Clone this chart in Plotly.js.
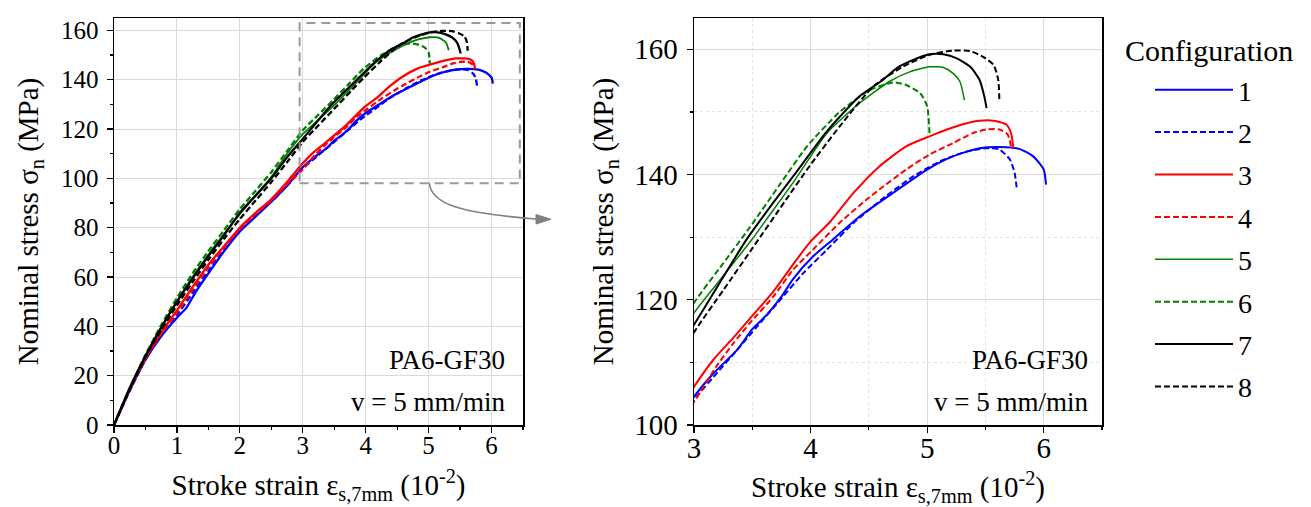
<!DOCTYPE html>
<html>
<head>
<meta charset="utf-8">
<script src="https://cdn.plot.ly/plotly-3.0.1.min.js"></script>
<style>html,body{margin:0;padding:0;background:#fff;}#chart{width:1311px;height:507px;}</style>
</head>
<body>
<div id="chart"></div>
<script>
// ---- Data ----
const configs = ["1", "2", "3", "4", "5", "6", "7", "8"];

const strain1 = [0, 0.25, 0.5, 0.75, 1.0, 1.15, 1.3, 1.5, 1.75, 2.0, 2.25, 2.5, 2.75, 3.0, 3.17, 3.37, 3.5, 3.62, 3.75, 3.85, 4.02, 4.19, 4.42, 4.71, 5.0, 5.22, 5.45, 5.62, 5.79, 5.91, 6.0, 6.02];
const stress1 = [0, 14, 26.5, 36, 43.5, 47.5, 54, 61.5, 70.5, 78.5, 84.5, 90.5, 97, 104.5, 108.3, 112, 115.3, 117.5, 120.5, 123.3, 126.9, 129.6, 133.3, 137.1, 140.8, 142.9, 144.2, 144.4, 144.1, 142.9, 140.8, 138.4];

const strain2 = [0, 0.25, 0.5, 0.75, 1.0, 1.25, 1.5, 1.75, 2.0, 2.25, 2.5, 2.75, 3.0, 3.22, 3.37, 3.54, 3.74, 3.94, 4.14, 4.37, 4.65, 4.88, 5.11, 5.34, 5.51, 5.62, 5.71, 5.75, 5.77];
const stress2 = [0, 14, 26.5, 36.5, 44.5, 53.5, 62.5, 71, 79, 85, 90.5, 97, 104, 108.8, 112, 115.7, 120, 124.3, 128, 132.3, 136.6, 139.7, 142.1, 143.7, 144.2, 144.0, 142.4, 140.3, 137.6];

const strain3 = [0, 0.25, 0.5, 0.75, 1.0, 1.25, 1.5, 1.75, 2.0, 2.25, 2.5, 2.75, 3.0, 3.17, 3.34, 3.48, 3.68, 3.88, 3.99, 4.17, 4.37, 4.59, 4.82, 5.02, 5.17, 5.34, 5.45, 5.57, 5.68, 5.72, 5.74];
const stress3 = [0, 14.5, 27, 37.5, 46.5, 56, 65, 72.5, 80, 86, 91.5, 98.5, 106.1, 110.5, 114, 117, 121.3, 126.4, 129.1, 132.5, 137.1, 141.3, 144.5, 146.1, 147.2, 148.2, 148.6, 148.6, 148.0, 146.6, 144.2];

const strain4 = [0, 0.25, 0.5, 0.75, 1.0, 1.25, 1.5, 1.75, 2.0, 2.25, 2.5, 2.75, 3.0, 3.19, 3.34, 3.48, 3.68, 3.85, 4.02, 4.25, 4.48, 4.59, 4.82, 5.02, 5.22, 5.39, 5.51, 5.62, 5.69, 5.72];
const stress4 = [0, 14.5, 27, 37, 45.5, 55, 64, 72, 79.5, 85.5, 91, 97.5, 103.7, 109.3, 113.1, 116.3, 120.5, 124.8, 128, 132.3, 136, 137.6, 140.8, 143.2, 145.0, 146.6, 147.2, 147.2, 146.4, 144.5];

const strain5 = [0, 0.25, 0.5, 0.75, 1.0, 1.25, 1.5, 1.75, 2.0, 2.25, 2.5, 2.75, 3.0, 3.25, 3.5, 3.62, 3.85, 4.14, 4.42, 4.68, 4.85, 5.02, 5.14, 5.22, 5.28, 5.32];
const stress5 = [0, 15, 28, 39.5, 50, 60, 69, 77.5, 85.5, 93, 100.5, 110, 117.9, 123.8, 129.7, 132.8, 138.7, 146.6, 151.4, 154.9, 156.4, 157.2, 157.1, 156.2, 154.9, 151.9];

const strain6 = [0, 0.25, 0.5, 0.75, 1.0, 1.25, 1.5, 1.75, 2.0, 2.25, 2.5, 2.75, 3.0, 3.25, 3.48, 3.74, 3.97, 4.25, 4.51, 4.71, 4.82, 4.94, 5.0, 5.02];
const stress6 = [0, 15, 28.5, 40.5, 51.5, 61.5, 70.5, 79, 87.5, 95, 102.5, 111, 119.5, 125.8, 131.6, 138.5, 144.5, 150.0, 153.5, 154.7, 154.3, 153.0, 150.9, 146.6];

const strain7 = [0, 0.25, 0.5, 0.75, 1.0, 1.25, 1.5, 1.75, 2.0, 2.25, 2.5, 2.75, 3.0, 3.22, 3.45, 3.68, 3.85, 4.14, 4.42, 4.62, 4.74, 4.88, 5.02, 5.14, 5.25, 5.37, 5.45, 5.49, 5.51];
const stress7 = [0, 15, 28, 39.5, 50, 59.5, 68.5, 77, 86, 93, 100, 108.5, 116, 122.7, 129.6, 135.5, 139.7, 146.9, 152.5, 155.1, 157.0, 158.3, 159.2, 159.2, 158.6, 157.2, 155.1, 152.5, 150.6];

const strain8 = [0, 0.25, 0.5, 0.75, 1.0, 1.25, 1.5, 1.75, 2.0, 2.25, 2.5, 2.75, 3.0, 3.25, 3.5, 3.79, 3.97, 4.25, 4.54, 4.79, 5.02, 5.22, 5.37, 5.48, 5.57, 5.61, 5.62];
const stress8 = [0, 14.5, 27.5, 38.5, 48.5, 58, 67, 75.5, 83.5, 91, 98.5, 106.5, 114.8, 121.5, 128.2, 136, 140.8, 147.7, 154.1, 157.2, 159.1, 159.8, 159.7, 158.8, 157.5, 155.1, 151.7];

const xTicksLeft = [0, 1, 2, 3, 4, 5, 6];
const yTicksLeft = [0, 20, 40, 60, 80, 100, 120, 140, 160];
const xTicksRight = [3, 4, 5, 6];
const yTicksRight = [100, 120, 140, 160];

// ---- Styles ----
const strains = [strain1, strain2, strain3, strain4, strain5, strain6, strain7, strain8];
const stresses = [stress1, stress2, stress3, stress4, stress5, stress6, stress7, stress8];
const colors = ["#0000ff", "#0000ff", "#ff0000", "#ff0000", "#008000", "#008000", "#000000", "#000000"];
const dashes = ["solid", "6px,3px", "solid", "6px,3px", "solid", "6px,3px", "solid", "6px,3px"];
const widths = [2, 2, 2, 2, 1.5, 2, 2, 2];

const FONT = "Liberation Serif, Times New Roman, serif";
const traces = [];
configs.forEach((c, i) => {
  traces.push({
    x: strains[i], y: stresses[i], xaxis: "x", yaxis: "y", mode: "lines",
    name: c, legendgroup: "g" + c, showlegend: false,
    line: {color: colors[i], dash: dashes[i], width: widths[i] + 0.3, shape: "spline", smoothing: 0.6}
  });
  traces.push({
    x: strains[i], y: stresses[i], xaxis: "x2", yaxis: "y2", mode: "lines",
    name: c, legendgroup: "g" + c, showlegend: true,
    line: {color: colors[i], dash: dashes[i], width: widths[i], shape: "spline", smoothing: 0.6}
  });
});

const W = 1311, H = 507;
const px = v => v / W;
const py = v => 1 - v / H;

const axisCommon = {
  showline: true, mirror: true, linecolor: "#000", linewidth: 1.5,
  ticks: "outside", ticklen: 6, tickwidth: 1.2, tickcolor: "#000",
  gridcolor: "#dadada", gridwidth: 1, zeroline: false,
  color: "#000"
};

const layout = {
  width: W, height: H,
  margin: {l: 0, r: 0, t: 0, b: 0},
  paper_bgcolor: "#fff", plot_bgcolor: "#fff",
  font: {family: FONT, color: "#000", size: 24},
  showlegend: true,
  legend: {
    x: px(1150), y: py(65), xanchor: "left", yanchor: "top",
    font: {family: FONT, size: 28, color: "#000"},
    itemwidth: 78, tracegroupgap: 3, bgcolor: "rgba(0,0,0,0)"
  },
  xaxis: Object.assign({}, axisCommon, {
    domain: [px(114), px(523)], range: [0, 6.5], tickvals: xTicksLeft,
    tickfont: {size: 25}, ticklabelstandoff: -9,
    minor: {dtick: 0.5, ticks: "outside", ticklen: 3, tickcolor: "#000", showgrid: false},
    title: {text: "Stroke strain ε<sub>s,7mm</sub> (10<sup>-2</sup>)", font: {size: 29}, standoff: 17}
  }),
  yaxis: Object.assign({}, axisCommon, {
    domain: [py(425), py(18)], range: [0, 165], tickvals: yTicksLeft,
    tickfont: {size: 25}, ticklabelstandoff: 3,
    minor: {dtick: 10, ticks: "outside", ticklen: 3, tickcolor: "#000", showgrid: false},
    title: {text: "Nominal stress σ<sub>n</sub> (MPa)", font: {size: 29}, standoff: 14}
  }),
  xaxis2: Object.assign({}, axisCommon, {
    domain: [px(694), px(1102)], range: [3, 6.5], tickvals: xTicksRight, anchor: "y2",
    tickfont: {size: 29}, ticklabelstandoff: -9,
    minor: {dtick: 0.5, ticks: "outside", ticklen: 3, tickcolor: "#000", showgrid: true, gridcolor: "#e2e2e2", griddash: "dot"},
    title: {text: "Stroke strain ε<sub>s,7mm</sub> (10<sup>-2</sup>)", font: {size: 29}, standoff: 15}
  }),
  yaxis2: Object.assign({}, axisCommon, {
    domain: [py(425), py(18)], range: [100, 165], tickvals: yTicksRight, anchor: "x2",
    tickfont: {size: 29}, ticklabelstandoff: 3,
    minor: {dtick: 10, ticks: "outside", ticklen: 3, tickcolor: "#000", showgrid: true, gridcolor: "#e2e2e2", griddash: "dot"},
    title: {text: "Nominal stress σ<sub>n</sub> (MPa)", font: {size: 29}, standoff: 12}
  }),
  shapes: [
    {type: "rect", xref: "x", yref: "y", x0: 2.95, x1: 6.45, y0: 98, y1: 163,
     line: {color: "#9a9a9a", width: 2, dash: "9px,6px"}},
    {type: "path", xref: "paper", yref: "paper",
     path: `M${px(429.3)},${py(182.7)} C${px(431)},${py(205)} ${px(462)},${py(213)} ${px(538)},${py(219.3)}`,
     line: {color: "#808080", width: 1.6}},
    {type: "path", xref: "paper", yref: "paper",
     path: `M${px(551)},${py(219.3)} L${px(536)},${py(214.5)} L${px(536)},${py(224)} Z`,
     fillcolor: "#808080", line: {color: "#808080", width: 1}}
  ],
  annotations: [
    {text: "PA6-GF30", xref: "x domain", yref: "y domain", x: 0.962, y: 0.16, xanchor: "right", yanchor: "middle", showarrow: false, font: {size: 27}},
    {text: "v = 5 mm/min", xref: "x domain", yref: "y domain", x: 0.962, y: 0.056, xanchor: "right", yanchor: "middle", showarrow: false, font: {size: 27}},
    {text: "PA6-GF30", xref: "x2 domain", yref: "y2 domain", x: 0.97, y: 0.16, xanchor: "right", yanchor: "middle", showarrow: false, font: {size: 27}},
    {text: "v = 5 mm/min", xref: "x2 domain", yref: "y2 domain", x: 0.97, y: 0.056, xanchor: "right", yanchor: "middle", showarrow: false, font: {size: 27}},
    {text: "Configuration", xref: "paper", yref: "paper", x: px(1209), y: py(50), xanchor: "center", yanchor: "middle", showarrow: false, font: {size: 30}}
  ]
};

Plotly.newPlot("chart", traces, layout, {staticPlot: true, displayModeBar: false});
</script>
</body>
</html>
